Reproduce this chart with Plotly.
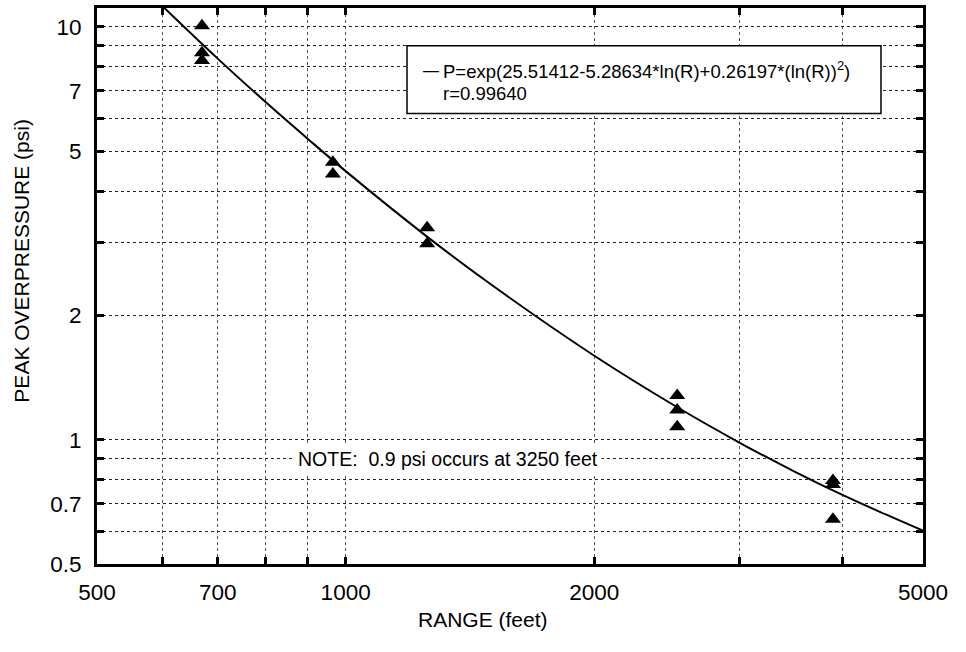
import numpy as np
import plotly.graph_objects as go

# Measured data (range in feet, peak overpressure in psi)
range_ft = [670, 670, 670, 965, 965, 1255, 1255, 2520, 2520, 2520, 3890, 3890, 3890]
pressure_psi = [10.05, 8.65, 8.28, 4.70, 4.40, 3.26, 2.98, 1.28, 1.18, 1.075, 0.797, 0.779, 0.642]

# Fitted curve
curve_range = [600, 700, 800, 900, 1000, 1250, 1500, 2000, 2500, 3000, 3500, 4000, 4500, 5000]
curve_psi = [11.22, 8.37, 6.57, 5.35, 4.47, 3.12, 2.375, 1.597, 1.21, 0.983, 0.836, 0.734, 0.660, 0.602]

x_tickvals = [500, 600, 700, 800, 900, 1000, 2000, 3000, 4000, 5000]
x_ticktext = ["500", " ", "700", " ", " ", "1000", "2000", " ", " ", "5000"]
y_tickvals = [0.5, 0.6, 0.7, 0.8, 0.9, 1, 2, 3, 4, 5, 6, 7, 8, 9, 10]
y_ticktext = ["0.5", " ", "0.7", " ", " ", "1", "2", " ", " ", "5", " ", "7", " ", " ", "10"]

FONT = "Liberation Sans, Arial, Helvetica, sans-serif"

fig = go.Figure()
fig.add_trace(go.Scatter(x=curve_range, y=curve_psi, mode="lines",
                         line=dict(color="black", width=2, shape="spline"),
                         showlegend=False, hoverinfo="skip"))
fig.add_trace(go.Scatter(x=range_ft, y=pressure_psi, mode="markers",
                         marker=dict(symbol="triangle-up", size=14, color="black"),
                         showlegend=False, cliponaxis=False))

L, R, T, B = 97, 43, 5, 88
W, H = 966, 652
pw, ph = W - L - R, H - T - B

def px(x):
    return (x - L) / pw

def py(y):
    return (H - B - y) / ph

fig.update_layout(
    width=W, height=H,
    margin=dict(l=L, r=R, t=T, b=B, pad=0),
    paper_bgcolor="white", plot_bgcolor="white",
    font=dict(family=FONT, color="black", size=22),
    showlegend=False,
)
fig.update_xaxes(
    type="log", range=[np.log10(500), np.log10(5000)],
    tickvals=x_tickvals, ticktext=x_ticktext,
    ticks="inside", ticklen=7, tickwidth=3, tickcolor="black",
    showline=True, linewidth=3, linecolor="black", mirror="allticks",
    showgrid=True, gridcolor="#555555", gridwidth=1, griddash="dot",
    zeroline=False, tickfont=dict(size=22.5, family=FONT, color="black"),
    ticklabelstandoff=6,
)
fig.update_yaxes(
    type="log", range=[np.log10(0.5), np.log10(11.1)],
    tickvals=y_tickvals, ticktext=y_ticktext,
    ticks="inside", ticklen=7, tickwidth=3, tickcolor="black",
    showline=True, linewidth=3, linecolor="black", mirror="allticks",
    showgrid=True, gridcolor="#222222", gridwidth=1.3, griddash="dot",
    zeroline=False, tickfont=dict(size=22.5, family=FONT, color="black"),
    ticklabelstandoff=8,
)

# Fit legend box
fig.add_shape(type="rect", xref="paper", yref="paper",
              x0=px(407), x1=px(881), y0=py(111), y1=py(43),
              line=dict(color="black", width=1.5), fillcolor="white", layer="above")
fig.add_annotation(xref="paper", yref="paper", x=px(431), y=py(68), text="—",
                   showarrow=False, font=dict(size=16, family=FONT), xanchor="center", yanchor="middle")
fig.add_annotation(xref="paper", yref="paper", x=px(441), y=py(67),
                   text="P=exp(25.51412-5.28634*ln(R)+0.26197*(ln(R))<sup>2</sup>)",
                   showarrow=False, font=dict(size=18.5, family=FONT), xanchor="left", yanchor="middle")
fig.add_annotation(xref="paper", yref="paper", x=px(441), y=py(91), text="r=0.99640",
                   showarrow=False, font=dict(size=18.5, family=FONT), xanchor="left", yanchor="middle")

# Note
fig.add_annotation(xref="paper", yref="y", x=px(448), y=np.log10(0.9),
                   text="NOTE:  0.9 psi occurs at 3250 feet",
                   showarrow=False, font=dict(size=19.5, family=FONT),
                   bgcolor="white", borderpad=3, xanchor="center", yanchor="middle")

# Axis titles
fig.add_annotation(xref="paper", yref="paper", x=px(483), y=py(620), text="RANGE (feet)",
                   showarrow=False, font=dict(size=21, family=FONT), xanchor="center", yanchor="middle")
fig.add_annotation(xref="paper", yref="paper", x=px(22), y=py(259), text="PEAK OVERPRESSURE (psi)",
                   textangle=-90, showarrow=False, font=dict(size=21, family=FONT),
                   xanchor="center", yanchor="middle")

fig.write_html("out.html")
